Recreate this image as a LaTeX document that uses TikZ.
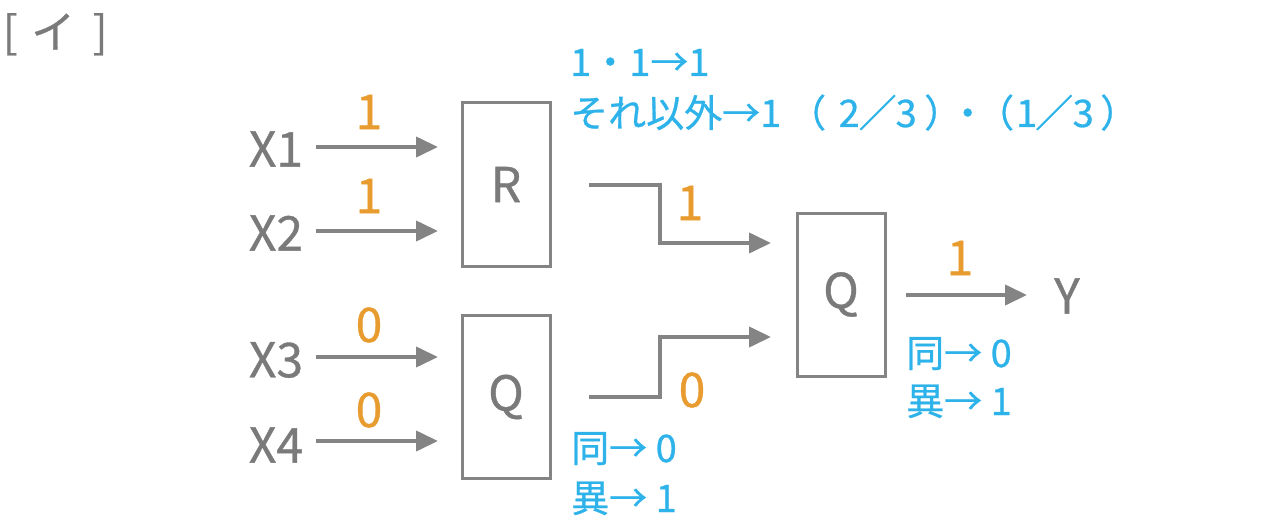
\documentclass[tikz,border=0pt]{standalone}
\usepackage{fontspec}
\setmainfont{Noto Sans CJK JP}[FakeBold=0.7]
\usetikzlibrary{arrows.meta}
\definecolor{gr}{HTML}{848484}
\definecolor{tx}{HTML}{7A7A7A}
\definecolor{og}{HTML}{E89B2E}
\definecolor{bl}{HTML}{2DB2EA}
\newcommand\putc[2]{\rlap{\hspace*{#1pt}\makebox[0pt][c]{#2}}}
\tikzset{
  lab/.style={text=tx,inner sep=0pt,font=\fontsize{48}{48}\selectfont},
  val/.style={text=og,inner sep=0pt,font=\fontsize{48}{48}\selectfont},
  note/.style={text=bl,inner sep=0pt,anchor=base west,font=\fontsize{38}{38}\selectfont},
  gate/.style={draw=gr,line width=3pt,minimum width=88pt,minimum height=163pt,inner sep=0pt,text=tx,font=\fontsize{48}{48}\selectfont},
  wire/.style={draw=gr,line width=4pt,-{Triangle[length=22pt,width=20pt]}},
}
\begin{document}
\begin{tikzpicture}[x=1pt,y=-1pt]
\useasboundingbox (0,0) rectangle (1274,532);
\node[lab,anchor=base west,font=\fontsize{44}{44}\selectfont] (title) at (0,48) {\putc{10}{[}\putc{53}{イ}\putc{100}{]}\phantom{[}};
% inputs
\node[lab] (x1) at (276,149) {X1};
\node[lab] (x2) at (276,233) {X2};
\node[lab] (x3) at (276,360) {X3};
\node[lab] (x4) at (276,445) {X4};
% gates
\node[gate] (R) at (506,184.5) {R};
\node[gate] (Q1) at (506,397) {Q};
\node[gate] (Q2) at (841,294.5) {Q};
\node[lab] (y) at (1067,296) {Y};
% coordinates
\coordinate (a1s) at (316,147); \coordinate (a1e) at (438,147);
\coordinate (a2s) at (316,231); \coordinate (a2e) at (438,231);
\coordinate (a3s) at (316,357); \coordinate (a3e) at (438,357);
\coordinate (a4s) at (316,441); \coordinate (a4e) at (438,441);
\coordinate (rs) at (589,185); \coordinate (rk) at (660,185); \coordinate (re) at (771,243);
\coordinate (qs) at (589,397); \coordinate (qk) at (660,397); \coordinate (qe) at (771,337);
\coordinate (os) at (906,295); \coordinate (oe) at (1027,295);
\draw[wire] (a1s) -- (a1e);
\draw[wire] (a2s) -- (a2e);
\draw[wire] (a3s) -- (a3e);
\draw[wire] (a4s) -- (a4e);
\draw[wire] (rs) -- (rk) |- (re);
\draw[wire] (qs) -- (qk) |- (qe);
\draw[wire] (os) -- (oe);
% values
\node[val] (v1) at (369,112) {1};
\node[val] (v2) at (369,196) {1};
\node[val] (v3) at (369,325) {0};
\node[val] (v4) at (369,410) {0};
\node[val] (vr) at (690,203) {1};
\node[val] (vq) at (692,390) {0};
\node[val] (vo) at (960,258) {1};
% notes
\node[note] (n1) at (570,76) {1・1→1};
\node[note] (n2) at (570,127) {\putc{237}{（}\putc{279}{2}\putc{307.5}{／}\putc{336}{3}\putc{373}{）}\putc{397.5}{・}\putc{425}{（}\putc{456.5}{1}\putc{484}{／}\putc{513}{3}\putc{549}{）}それ以外→1\hspace*{340pt}};
\node[note] (n3) at (571,462) {同→ 0};
\node[note] (n4) at (571,512) {異→ 1};
\node[note] (n5) at (906,367) {同→ 0};
\node[note] (n6) at (906,415) {異→ 1};
\end{tikzpicture}
\end{document}
